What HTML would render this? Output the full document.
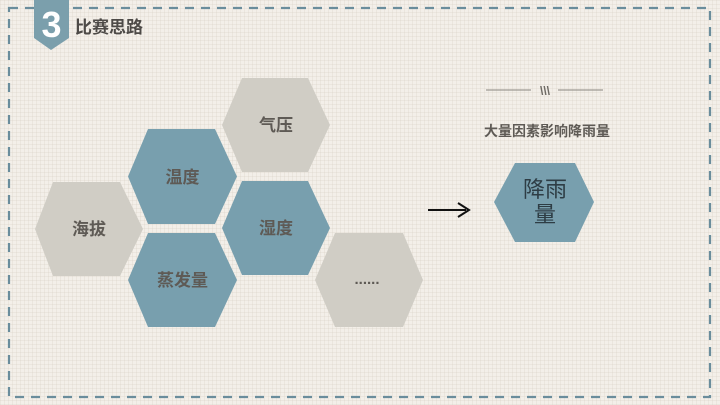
<!DOCTYPE html>
<html><head><meta charset="utf-8"><style>
body{margin:0;width:720px;height:405px;overflow:hidden;background-color:#f3efe9;
background-image:linear-gradient(rgba(200,190,175,.18) 1px,transparent 1px),linear-gradient(90deg,rgba(200,190,175,.18) 1px,transparent 1px);background-size:4px 4px;}
svg{position:absolute;left:0;top:0}
</style></head><body>
<svg width="720" height="405" xmlns="http://www.w3.org/2000/svg" font-family="'Liberation Sans','Noto Sans CJK SC',sans-serif">
<rect x="9" y="8" width="701" height="389" fill="none" stroke="#6a8d9c" stroke-width="2.2" stroke-dasharray="9 7"/>
<polygon points="34,0 69,0 69,38 51,50 34,38" fill="#7b9fac"/>
<text x="51.5" y="37" font-size="36" font-weight="bold" fill="#fff" text-anchor="middle">3</text>
<text x="75" y="33" font-size="17" font-weight="bold" fill="#4d4a47">比赛思路</text>
<g font-size="17" font-weight="bold" fill="#5e5a55" text-anchor="middle">
<polygon points="35,229 53,182 120,182 143,229 120,276 53,276" fill="#d0cdc5"/>
<text x="89" y="235">海拔</text>
<polygon points="128,176.5 148,129 215,129 237,176.5 215,224 148,224" fill="#789fae"/>
<text x="182.5" y="183">温度</text>
<polygon points="222,125 242,78 308,78 330,125 308,172 242,172" fill="#d0cdc5"/>
<text x="276" y="131">气压</text>
<polygon points="222,228 242,181 308,181 330,228 308,275 242,275" fill="#789fae"/>
<text x="276" y="234">湿度</text>
<polygon points="128,280 148,233 215,233 237,280 215,327 148,327" fill="#789fae"/>
<text x="182.5" y="286">蒸发量</text>
<polygon points="315,280 335,233 403,233 423,280 403,327 335,327" fill="#d0cdc5"/>
<text x="367" y="284" font-size="15">......</text>
</g>
<line x1="428" y1="210" x2="466" y2="210" stroke="#111" stroke-width="2"/>
<path d="M458,203 L469,210 L458,217" fill="none" stroke="#111" stroke-width="2"/>
<line x1="486" y1="90" x2="531" y2="90" stroke="#8a857e" stroke-width="1"/>
<line x1="558" y1="90" x2="603" y2="90" stroke="#8a857e" stroke-width="1"/>
<text x="545" y="95" font-size="12" font-weight="bold" fill="#6e6a64" text-anchor="middle">\\\</text>
<text x="547" y="136" font-size="14" font-weight="bold" fill="#5e5a55" text-anchor="middle">大量因素影响降雨量</text>
<polygon points="494,202 515,163 575,163 594,202 575,242 515,242" fill="#789fae"/>
<text x="545" y="197" font-size="22" fill="#2e3d45" text-anchor="middle">降雨</text>
<text x="545" y="222" font-size="22" fill="#2e3d45" text-anchor="middle">量</text>
</svg>
</body></html>
